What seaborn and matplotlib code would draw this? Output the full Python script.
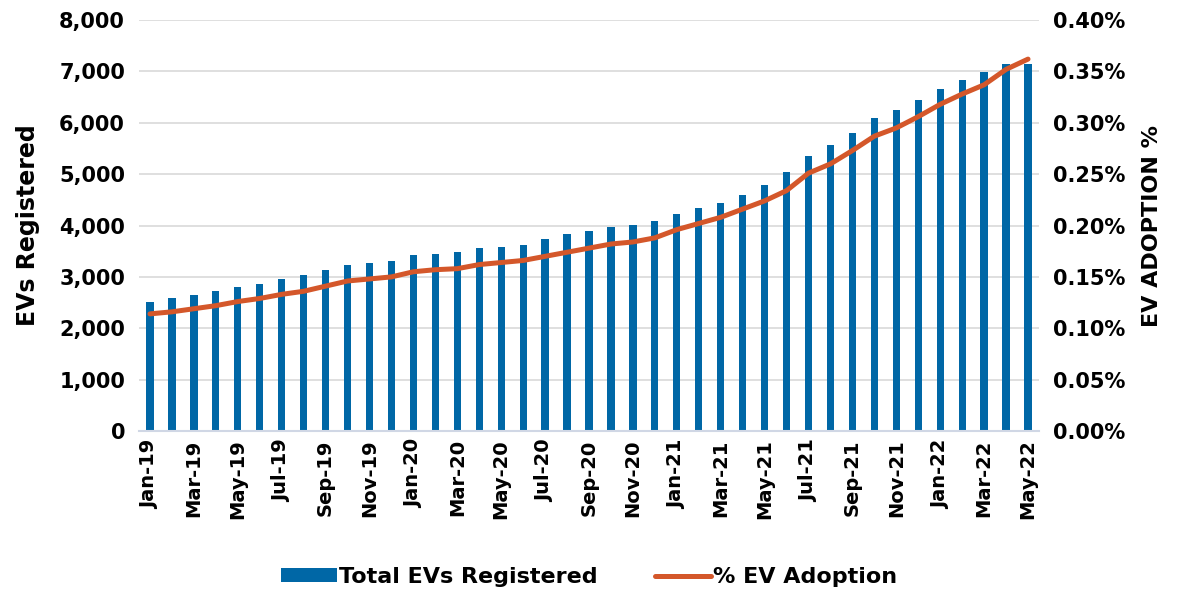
import matplotlib
matplotlib.use("Agg")
import matplotlib.pyplot as plt
import matplotlib.ticker as mticker
from matplotlib.patches import Patch
from matplotlib.lines import Line2D
import seaborn as sns
import pandas as pd

months = [
    "Jan-19", "Feb-19", "Mar-19", "Apr-19", "May-19", "Jun-19", "Jul-19", "Aug-19",
    "Sep-19", "Oct-19", "Nov-19", "Dec-19", "Jan-20", "Feb-20", "Mar-20", "Apr-20",
    "May-20", "Jun-20", "Jul-20", "Aug-20", "Sep-20", "Oct-20", "Nov-20", "Dec-20",
    "Jan-21", "Feb-21", "Mar-21", "Apr-21", "May-21", "Jun-21", "Jul-21", "Aug-21",
    "Sep-21", "Oct-21", "Nov-21", "Dec-21", "Jan-22", "Feb-22", "Mar-22", "Apr-22",
    "May-22",
]
total_evs = [
    2520, 2580, 2640, 2720, 2800, 2870, 2950, 3030, 3130, 3230, 3265, 3315, 3425, 3450, 3490,
    3560, 3575, 3625, 3730, 3835, 3900, 3975, 4010, 4080, 4230, 4340, 4445, 4600, 4795,
    5040, 5350, 5560, 5810, 6095, 6240, 6440, 6655, 6835, 6980, 7150, 7145,
]
adoption_pct = [
    0.114, 0.116, 0.119, 0.122, 0.126, 0.129, 0.133, 0.136, 0.141, 0.146, 0.148, 0.150, 0.155, 0.157, 0.158,
    0.162, 0.164, 0.166, 0.170, 0.174, 0.178, 0.182, 0.184, 0.188, 0.196, 0.202, 0.208, 0.216, 0.224,
    0.234, 0.251, 0.260, 0.273, 0.287, 0.295, 0.306, 0.318, 0.328, 0.337, 0.352, 0.362,
]

BLUE = "#0067A6"
ORANGE = "#D4572A"

df = pd.DataFrame({"month": months, "evs": total_evs, "pct": adoption_pct})
df["pos"] = range(len(df))

sns.set_style("white")
plt.rcParams["font.family"] = ["DejaVu Sans"]
plt.rcParams["font.weight"] = "bold"
plt.rcParams["text.color"] = "black"
plt.rcParams["axes.labelcolor"] = "black"
plt.rcParams["xtick.color"] = "black"
plt.rcParams["ytick.color"] = "black"

fig = plt.figure(figsize=(11.78, 5.9), dpi=100)
ax1 = fig.add_axes([0.118, 0.2695, 0.764, 0.6965])

sns.barplot(data=df, x="month", y="evs", color=BLUE, width=0.33, saturation=1,
            linewidth=0, ax=ax1)
ax1.set_ylim(0, 8000)
ax1.set_xlim(-0.5, len(df) - 0.5)
ax1.yaxis.set_major_locator(mticker.MultipleLocator(1000))
ax1.yaxis.set_major_formatter(mticker.FuncFormatter(lambda v, p: f"{int(v):,}"))
ax1.grid(axis="y", color="#d9d9d9", linewidth=1.2)
ax1.set_axisbelow(True)
ax1.set_xticks(range(0, len(df), 2))
ax1.set_xticklabels(months[::2], rotation=90, fontsize=14, fontweight="bold")
ax1.tick_params(axis="y", labelsize=15, length=0, pad=10)
ax1.tick_params(axis="x", length=0, pad=6)
ax1.set_xlabel("")
ax1.set_ylabel("EVs Registered", fontsize=17, fontweight="bold", labelpad=14)
for s in ["top", "left", "right"]:
    ax1.spines[s].set_visible(False)
ax1.spines["bottom"].set_color("#d0d7e5")
ax1.spines["bottom"].set_linewidth(1.5)

ax2 = ax1.twinx()
sns.lineplot(data=df, x="pos", y="pct", color=ORANGE, linewidth=3.6, ax=ax2,
             solid_capstyle="round")
ax2.set_ylim(0, 0.40)
ax2.yaxis.set_major_locator(mticker.MultipleLocator(0.05))
ax2.yaxis.set_major_formatter(mticker.FuncFormatter(lambda v, p: f"{v:.2f}%"))
ax2.tick_params(axis="y", labelsize=15, length=0, pad=10)
ax2.set_ylabel("EV ADOPTION %", fontsize=16, fontweight="bold", labelpad=12)
ax2.set_xlabel("")
for s in ["top", "left", "right", "bottom"]:
    ax2.spines[s].set_visible(False)

handles = [
    Patch(facecolor=BLUE, edgecolor="none"),
    Line2D([0], [0], color=ORANGE, linewidth=3.6, solid_capstyle="round"),
]
fig.legend(handles, ["Total EVs Registered", "% EV Adoption"], loc="center",
           bbox_to_anchor=(0.5, 0.022), ncol=2, frameon=False, fontsize=16,
           handlelength=2.5, handleheight=0.6, handletextpad=0.1, columnspacing=2.6)

fig.savefig("out.png", dpi=100)
